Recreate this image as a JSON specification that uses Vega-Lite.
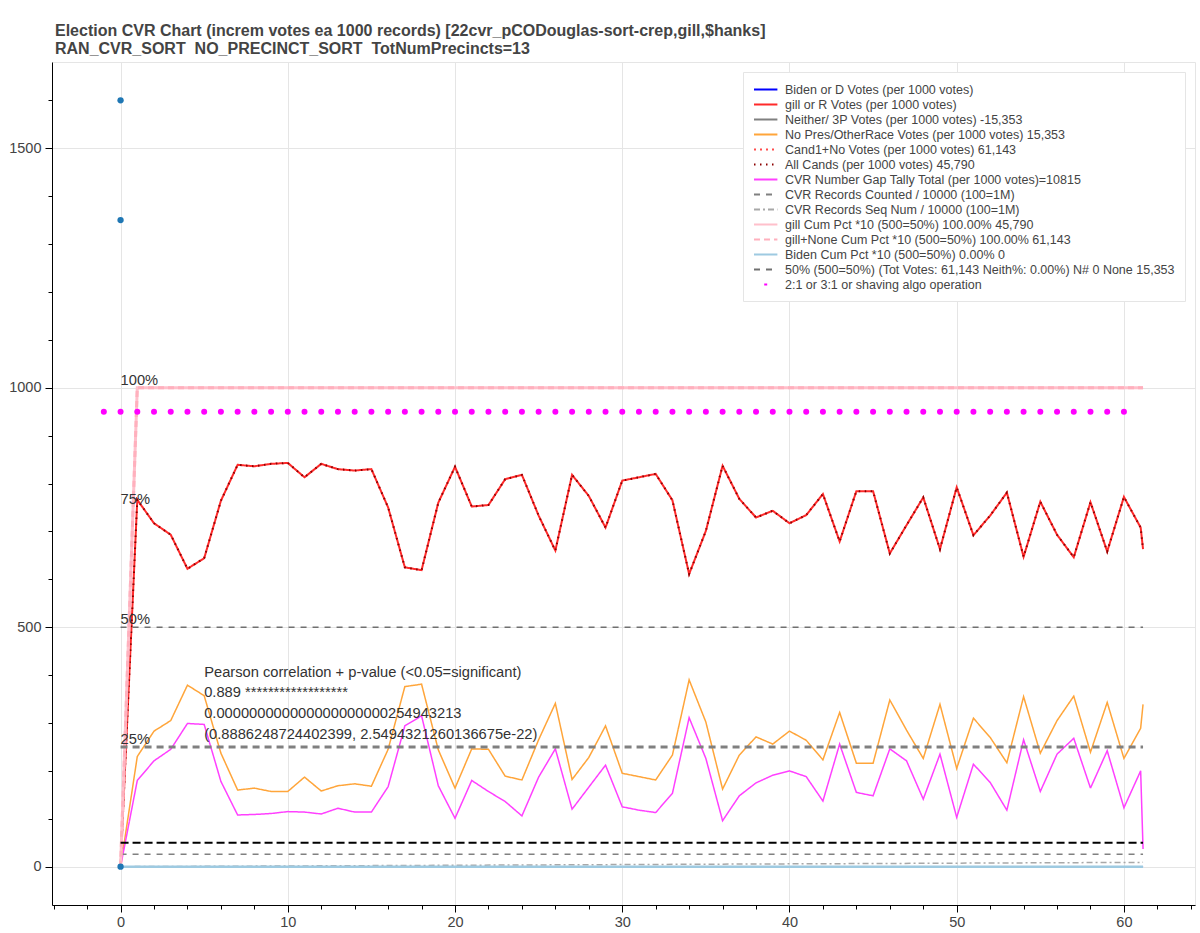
{
  "$schema": "https://vega.github.io/schema/vega-lite/v6.json",
  "width": 1143,
  "height": 843,
  "autosize": {"type": "none"},
  "padding": {"left": 52, "top": 62, "right": 5, "bottom": 28},
  "background": "white",
  "title": {
    "text": [
      "Election CVR Chart (increm votes ea 1000 records) [22cvr_pCODouglas-sort-crep,gill,$hanks]",
      "\u2002RAN_CVR_SORT\u00a0\u00a0NO_PRECINCT_SORT\u00a0\u00a0TotNumPrecincts=13"
    ],
    "anchor": "start",
    "frame": "group",
    "font": "Liberation Sans",
    "fontSize": 16,
    "fontWeight": "bold",
    "color": "#444",
    "lineHeight": 18,
    "offset": 5,
    "dx": 3
  },
  "datasets": {
    "batch": [
      {"x": 0, "gill": 0, "nopres": 0, "gap": 0},
      {"x": 1, "gill": 766, "nopres": 230, "gap": 180},
      {"x": 2, "gill": 717, "nopres": 283, "gap": 221},
      {"x": 3, "gill": 693, "nopres": 305, "gap": 245},
      {"x": 4, "gill": 622, "nopres": 379, "gap": 299},
      {"x": 5, "gill": 644, "nopres": 357, "gap": 297},
      {"x": 6, "gill": 764, "nopres": 237, "gap": 178},
      {"x": 7, "gill": 839, "nopres": 160, "gap": 108},
      {"x": 8, "gill": 836, "nopres": 164, "gap": 109},
      {"x": 9, "gill": 841, "nopres": 157, "gap": 111},
      {"x": 10, "gill": 843, "nopres": 157, "gap": 115},
      {"x": 11, "gill": 813, "nopres": 187, "gap": 114},
      {"x": 12, "gill": 841, "nopres": 158, "gap": 110},
      {"x": 13, "gill": 830, "nopres": 169, "gap": 122},
      {"x": 14, "gill": 827, "nopres": 173, "gap": 114},
      {"x": 15, "gill": 830, "nopres": 168, "gap": 114},
      {"x": 16, "gill": 750, "nopres": 245, "gap": 167},
      {"x": 17, "gill": 625, "nopres": 376, "gap": 294},
      {"x": 18, "gill": 619, "nopres": 381, "gap": 315},
      {"x": 19, "gill": 760, "nopres": 244, "gap": 169},
      {"x": 20, "gill": 835, "nopres": 164, "gap": 101},
      {"x": 21, "gill": 752, "nopres": 246, "gap": 180},
      {"x": 22, "gill": 755, "nopres": 245, "gap": 157},
      {"x": 23, "gill": 809, "nopres": 189, "gap": 136},
      {"x": 24, "gill": 818, "nopres": 181, "gap": 106},
      {"x": 25, "gill": 733, "nopres": 265, "gap": 187},
      {"x": 26, "gill": 660, "nopres": 341, "gap": 246},
      {"x": 27, "gill": 818, "nopres": 182, "gap": 120},
      {"x": 28, "gill": 774, "nopres": 228, "gap": 166},
      {"x": 29, "gill": 708, "nopres": 294, "gap": 212},
      {"x": 30, "gill": 806, "nopres": 195, "gap": 125},
      {"x": 31, "gill": 813, "nopres": 188, "gap": 118},
      {"x": 32, "gill": 820, "nopres": 181, "gap": 113},
      {"x": 33, "gill": 765, "nopres": 233, "gap": 153},
      {"x": 34, "gill": 611, "nopres": 390, "gap": 311},
      {"x": 35, "gill": 701, "nopres": 302, "gap": 226},
      {"x": 36, "gill": 837, "nopres": 162, "gap": 96},
      {"x": 37, "gill": 768, "nopres": 233, "gap": 148},
      {"x": 38, "gill": 729, "nopres": 271, "gap": 175},
      {"x": 39, "gill": 743, "nopres": 256, "gap": 191},
      {"x": 40, "gill": 717, "nopres": 283, "gap": 200},
      {"x": 41, "gill": 734, "nopres": 264, "gap": 188},
      {"x": 42, "gill": 778, "nopres": 223, "gap": 137},
      {"x": 43, "gill": 679, "nopres": 322, "gap": 256},
      {"x": 44, "gill": 784, "nopres": 216, "gap": 155},
      {"x": 45, "gill": 784, "nopres": 216, "gap": 148},
      {"x": 46, "gill": 654, "nopres": 348, "gap": 246},
      {"x": 47, "gill": 713, "nopres": 285, "gap": 221},
      {"x": 48, "gill": 771, "nopres": 226, "gap": 141},
      {"x": 49, "gill": 663, "nopres": 339, "gap": 235},
      {"x": 50, "gill": 792, "nopres": 205, "gap": 103},
      {"x": 51, "gill": 692, "nopres": 310, "gap": 214},
      {"x": 52, "gill": 733, "nopres": 270, "gap": 176},
      {"x": 53, "gill": 781, "nopres": 217, "gap": 118},
      {"x": 54, "gill": 647, "nopres": 355, "gap": 265},
      {"x": 55, "gill": 762, "nopres": 237, "gap": 157},
      {"x": 56, "gill": 693, "nopres": 305, "gap": 235},
      {"x": 57, "gill": 646, "nopres": 356, "gap": 268},
      {"x": 58, "gill": 761, "nopres": 239, "gap": 164},
      {"x": 59, "gill": 658, "nopres": 343, "gap": 242},
      {"x": 60, "gill": 772, "nopres": 226, "gap": 123},
      {"x": 61, "gill": 708, "nopres": 289, "gap": 200},
      {"x": 61.143, "gill": 663, "nopres": 339, "gap": 37}
    ],
    "flat": [
      {"k": "bid", "x": 0, "y": 0},
      {"k": "bid", "x": 61.143, "y": 0},
      {"k": "neith", "x": 0, "y": 0},
      {"k": "neith", "x": 61.143, "y": 0},
      {"k": "cnt", "x": 0, "y": 26},
      {"k": "cnt", "x": 61.143, "y": 26},
      {"k": "seq", "x": 0, "y": 0},
      {"k": "seq", "x": 61.143, "y": 9},
      {"k": "p50", "x": 0, "y": 500},
      {"k": "p50", "x": 61.143, "y": 500},
      {"k": "gcum", "x": 0, "y": 0},
      {"k": "gcum", "x": 1, "y": 1000},
      {"k": "gcum", "x": 61.143, "y": 1000},
      {"k": "gncum", "x": 0, "y": 0},
      {"k": "gncum", "x": 1, "y": 1000},
      {"k": "gncum", "x": 61.143, "y": 1000},
      {"k": "bcum", "x": 0, "y": 0},
      {"k": "bcum", "x": 61.143, "y": 0}
    ],
    "guides": [
      {"g": "p25", "x": 0, "y": 250},
      {"g": "p25", "x": 61.143, "y": 250},
      {"g": "b50", "x": 0, "y": 50},
      {"g": "b50", "x": 61.143, "y": 50}
    ],
    "algo": [
      {"x": -1, "y": 950}, {"x": 0, "y": 950}, {"x": 1, "y": 950}, {"x": 2, "y": 950},
      {"x": 3, "y": 950}, {"x": 4, "y": 950}, {"x": 5, "y": 950}, {"x": 6, "y": 950},
      {"x": 7, "y": 950}, {"x": 8, "y": 950}, {"x": 9, "y": 950}, {"x": 10, "y": 950},
      {"x": 11, "y": 950}, {"x": 12, "y": 950}, {"x": 13, "y": 950}, {"x": 14, "y": 950},
      {"x": 15, "y": 950}, {"x": 16, "y": 950}, {"x": 17, "y": 950}, {"x": 18, "y": 950},
      {"x": 19, "y": 950}, {"x": 20, "y": 950}, {"x": 21, "y": 950}, {"x": 22, "y": 950},
      {"x": 23, "y": 950}, {"x": 24, "y": 950}, {"x": 25, "y": 950}, {"x": 26, "y": 950},
      {"x": 27, "y": 950}, {"x": 28, "y": 950}, {"x": 29, "y": 950}, {"x": 30, "y": 950},
      {"x": 31, "y": 950}, {"x": 32, "y": 950}, {"x": 33, "y": 950}, {"x": 34, "y": 950},
      {"x": 35, "y": 950}, {"x": 36, "y": 950}, {"x": 37, "y": 950}, {"x": 38, "y": 950},
      {"x": 39, "y": 950}, {"x": 40, "y": 950}, {"x": 41, "y": 950}, {"x": 42, "y": 950},
      {"x": 43, "y": 950}, {"x": 44, "y": 950}, {"x": 45, "y": 950}, {"x": 46, "y": 950},
      {"x": 47, "y": 950}, {"x": 48, "y": 950}, {"x": 49, "y": 950}, {"x": 50, "y": 950},
      {"x": 51, "y": 950}, {"x": 52, "y": 950}, {"x": 53, "y": 950}, {"x": 54, "y": 950},
      {"x": 55, "y": 950}, {"x": 56, "y": 950}, {"x": 57, "y": 950}, {"x": 58, "y": 950},
      {"x": 59, "y": 950}, {"x": 60, "y": 950}
    ],
    "blue": [
      {"x": 0, "y": 1600},
      {"x": 0, "y": 1350},
      {"x": 0, "y": 0}
    ],
    "notes": [
      {"t": "100%", "x": 0, "y": 1000},
      {"t": "75%", "x": 0, "y": 750},
      {"t": "50%", "x": 0, "y": 500},
      {"t": "25%", "x": 0, "y": 250},
      {"t": "Pearson correlation + p-value (<0.05=significant)", "x": 5, "y": 390},
      {"t": "0.889 ******************", "x": 5, "y": 348},
      {"t": "0.000000000000000000000254943213", "x": 5, "y": 304},
      {"t": "(0.8886248724402399, 2.5494321260136675e-22)", "x": 5, "y": 260}
    ]
  },
  "encoding": {
    "x": {
      "field": "x",
      "type": "quantitative",
      "scale": {"domain": [-4.1, 64.25], "nice": false, "zero": false},
      "axis": {
        "title": null,
        "values": [-4, -2, 0, 2, 4, 6, 8, 10, 12, 14, 16, 18, 20, 22, 24, 26, 28, 30, 32, 34, 36, 38, 40, 42, 44, 46, 48, 50, 52, 54, 56, 58, 60, 62, 64],
        "format": "d",
        "labelExpr": "datum.value % 10 === 0 ? datum.label : ''",
        "labelOverlap": false,
        "labelFlush": false,
        "grid": true,
        "gridColor": "#e5e5e5",
        "gridOpacity": {"condition": {"test": "datum.value % 10 === 0", "value": 1}, "value": 0},
        "tickSize": {"condition": {"test": "datum.value % 10 === 0", "value": 7}, "value": 4},
        "tickColor": "#000",
        "domainColor": "#000",
        "labelColor": "#444",
        "labelFont": "Liberation Sans",
        "labelFontSize": 14.5,
        "labelPadding": 3
      }
    },
    "y": {
      "field": "y",
      "type": "quantitative",
      "scale": {"domain": [-80, 1680], "nice": false, "zero": false},
      "axis": {
        "title": null,
        "values": [0, 100, 200, 300, 400, 500, 600, 700, 800, 900, 1000, 1100, 1200, 1300, 1400, 1500, 1600],
        "format": "d",
        "labelExpr": "datum.value % 500 === 0 ? datum.label : ''",
        "labelOverlap": false,
        "grid": true,
        "gridColor": "#e5e5e5",
        "gridOpacity": {"condition": {"test": "datum.value % 500 === 0", "value": 1}, "value": 0},
        "tickSize": {"condition": {"test": "datum.value % 500 === 0", "value": 7}, "value": 4},
        "tickColor": "#000",
        "domainColor": "#000",
        "labelColor": "#444",
        "labelFont": "Liberation Sans",
        "labelFontSize": 14.5,
        "labelPadding": 4
      }
    }
  },
  "layer": [
    {
      "data": {"name": "flat"},
      "transform": [{"filter": {"field": "k", "oneOf": ["bid", "neith"]}}],
      "mark": {"type": "line", "strokeWidth": 1.5},
      "encoding": {
        "color": {
          "field": "k", "type": "nominal",
          "scale": {"domain": ["bid", "gill", "neith", "nopres", "cand1", "allc", "gap", "cnt", "seq", "gcum", "gncum", "bcum", "p50", "algo"],
                    "range": ["#0000ff", "#ff2a2a", "#808080", "#ffa53a", "#ff4d4d", "#8b0000", "#ff40ff", "#808080", "#a8a8a8", "#ffc0cb", "#ffb0bd", "#9ecae1", "#707070", "#ff00ff"]},
          "legend": {
            "title": null,
            "orient": "top-right",
            "offset": 10,
            "padding": 10,
            "fillColor": "white",
            "strokeColor": "#e5e5e5",
            "symbolType": "M-1,0H2.6",
            "symbolSize": 169,
            "symbolStrokeWidth": 2,
            "labelFont": "Liberation Sans",
            "labelFontSize": 12.5,
            "labelColor": "#444",
            "labelLimit": 600,
            "labelOffset": 17,
            "rowPadding": 1,
            "labelExpr": "{'bid':'Biden or D Votes (per 1000 votes)','gill':'gill or R Votes (per 1000 votes)','neith':'Neither/ 3P Votes (per 1000 votes) -15,353','nopres':'No Pres/OtherRace Votes (per 1000 votes) 15,353','cand1':'Cand1+No Votes (per 1000 votes) 61,143','allc':'All Cands (per 1000 votes) 45,790','gap':'CVR Number Gap Tally Total (per 1000 votes)=10815','cnt':'CVR Records Counted / 10000 (100=1M)','seq':'CVR Records Seq Num / 10000 (100=1M)','gcum':'gill Cum Pct *10 (500=50%) 100.00% 45,790','gncum':'gill+None Cum Pct *10 (500=50%) 100.00% 61,143','bcum':'Biden Cum Pct *10 (500=50%) 0.00% 0','p50':'50% (500=50%) (Tot Votes: 61,143 Neith%: 0.00%) N# 0 None 15,353','algo':'2:1 or 3:1 or shaving algo operation'}[datum.value]"
          }
        },
        "strokeDash": {
          "field": "k", "type": "nominal",
          "scale": {"domain": ["bid", "gill", "neith", "nopres", "cand1", "allc", "gap", "cnt", "seq", "gcum", "gncum", "bcum", "p50", "algo"],
                    "range": [[1, 0], [1, 0], [1, 0], [1, 0], [2, 4], [1.5, 4.5], [1, 0], [6, 6], [6, 3, 2, 3], [1, 0], [6, 4], [1, 0], [6, 6], [0, 10.2, 3, 100]]},
          "legend": {
            "title": null,
            "orient": "top-right",
            "symbolType": "M-1,0H2.6",
            "labelExpr": "{'bid':'Biden or D Votes (per 1000 votes)','gill':'gill or R Votes (per 1000 votes)','neith':'Neither/ 3P Votes (per 1000 votes) -15,353','nopres':'No Pres/OtherRace Votes (per 1000 votes) 15,353','cand1':'Cand1+No Votes (per 1000 votes) 61,143','allc':'All Cands (per 1000 votes) 45,790','gap':'CVR Number Gap Tally Total (per 1000 votes)=10815','cnt':'CVR Records Counted / 10000 (100=1M)','seq':'CVR Records Seq Num / 10000 (100=1M)','gcum':'gill Cum Pct *10 (500=50%) 100.00% 45,790','gncum':'gill+None Cum Pct *10 (500=50%) 100.00% 61,143','bcum':'Biden Cum Pct *10 (500=50%) 0.00% 0','p50':'50% (500=50%) (Tot Votes: 61,143 Neith%: 0.00%) N# 0 None 15,353','algo':'2:1 or 3:1 or shaving algo operation'}[datum.value]"
          }
        }
      }
    },
    {
      "data": {"name": "batch"},
      "transform": [
        {"fold": ["gill", "nopres", "gap"], "as": ["k", "y"]},
        {"filter": "datum.k === 'gill'"}
      ],
      "mark": {"type": "line", "strokeWidth": 2},
      "encoding": {
        "color": {"field": "k", "type": "nominal",
          "scale": {"domain": ["bid", "gill", "neith", "nopres", "cand1", "allc", "gap", "cnt", "seq", "gcum", "gncum", "bcum", "p50", "algo"],
                    "range": ["#0000ff", "#ff2a2a", "#808080", "#ffa53a", "#ff4d4d", "#8b0000", "#ff40ff", "#808080", "#a8a8a8", "#ffc0cb", "#ffb0bd", "#9ecae1", "#707070", "#ff00ff"]}},
        "strokeDash": {"field": "k", "type": "nominal",
          "scale": {"domain": ["bid", "gill", "neith", "nopres", "cand1", "allc", "gap", "cnt", "seq", "gcum", "gncum", "bcum", "p50", "algo"],
                    "range": [[1, 0], [1, 0], [1, 0], [1, 0], [2, 4], [1.5, 4.5], [1, 0], [6, 6], [6, 3, 2, 3], [1, 0], [6, 4], [1, 0], [6, 6], [0, 10.2, 3, 100]]}}
      }
    },
    {
      "data": {"name": "batch"},
      "transform": [
        {"fold": ["gill", "nopres", "gap"], "as": ["k", "y"]},
        {"filter": "datum.k !== 'gill'"}
      ],
      "mark": {"type": "line", "strokeWidth": 1.5},
      "encoding": {
        "color": {"field": "k", "type": "nominal",
          "scale": {"domain": ["bid", "gill", "neith", "nopres", "cand1", "allc", "gap", "cnt", "seq", "gcum", "gncum", "bcum", "p50", "algo"],
                    "range": ["#0000ff", "#ff2a2a", "#808080", "#ffa53a", "#ff4d4d", "#8b0000", "#ff40ff", "#808080", "#a8a8a8", "#ffc0cb", "#ffb0bd", "#9ecae1", "#707070", "#ff00ff"]}},
        "strokeDash": {"field": "k", "type": "nominal",
          "scale": {"domain": ["bid", "gill", "neith", "nopres", "cand1", "allc", "gap", "cnt", "seq", "gcum", "gncum", "bcum", "p50", "algo"],
                    "range": [[1, 0], [1, 0], [1, 0], [1, 0], [2, 4], [1.5, 4.5], [1, 0], [6, 6], [6, 3, 2, 3], [1, 0], [6, 4], [1, 0], [6, 6], [0, 10.2, 3, 100]]}}
      }
    },
    {
      "data": {"name": "batch"},
      "transform": [
        {"fold": ["gill"], "as": ["k", "y"]}
      ],
      "mark": {"type": "line", "strokeWidth": 2},
      "encoding": {
        "color": {"datum": "allc", "type": "nominal",
          "scale": {"domain": ["bid", "gill", "neith", "nopres", "cand1", "allc", "gap", "cnt", "seq", "gcum", "gncum", "bcum", "p50", "algo"],
                    "range": ["#0000ff", "#ff2a2a", "#808080", "#ffa53a", "#ff4d4d", "#8b0000", "#ff40ff", "#808080", "#a8a8a8", "#ffc0cb", "#ffb0bd", "#9ecae1", "#707070", "#ff00ff"]}},
        "strokeDash": {"datum": "allc", "type": "nominal",
          "scale": {"domain": ["bid", "gill", "neith", "nopres", "cand1", "allc", "gap", "cnt", "seq", "gcum", "gncum", "bcum", "p50", "algo"],
                    "range": [[1, 0], [1, 0], [1, 0], [1, 0], [2, 4], [1.5, 4.5], [1, 0], [6, 6], [6, 3, 2, 3], [1, 0], [6, 4], [1, 0], [6, 6], [0, 10.2, 3, 100]]}}
      }
    },
    {
      "data": {"name": "flat"},
      "transform": [{"filter": {"field": "k", "oneOf": ["cnt", "seq", "p50"]}}],
      "mark": {"type": "line", "strokeWidth": 1.5},
      "encoding": {
        "color": {"field": "k", "type": "nominal",
          "scale": {"domain": ["bid", "gill", "neith", "nopres", "cand1", "allc", "gap", "cnt", "seq", "gcum", "gncum", "bcum", "p50", "algo"],
                    "range": ["#0000ff", "#ff2a2a", "#808080", "#ffa53a", "#ff4d4d", "#8b0000", "#ff40ff", "#808080", "#a8a8a8", "#ffc0cb", "#ffb0bd", "#9ecae1", "#707070", "#ff00ff"]}},
        "strokeDash": {"field": "k", "type": "nominal",
          "scale": {"domain": ["bid", "gill", "neith", "nopres", "cand1", "allc", "gap", "cnt", "seq", "gcum", "gncum", "bcum", "p50", "algo"],
                    "range": [[1, 0], [1, 0], [1, 0], [1, 0], [2, 4], [1.5, 4.5], [1, 0], [6, 6], [6, 3, 2, 3], [1, 0], [6, 4], [1, 0], [6, 6], [0, 10.2, 3, 100]]}}
      }
    },
    {
      "data": {"name": "flat"},
      "transform": [{"filter": {"field": "k", "oneOf": ["gcum"]}}],
      "mark": {"type": "line", "strokeWidth": 3},
      "encoding": {
        "color": {"field": "k", "type": "nominal",
          "scale": {"domain": ["bid", "gill", "neith", "nopres", "cand1", "allc", "gap", "cnt", "seq", "gcum", "gncum", "bcum", "p50", "algo"],
                    "range": ["#0000ff", "#ff2a2a", "#808080", "#ffa53a", "#ff4d4d", "#8b0000", "#ff40ff", "#808080", "#a8a8a8", "#ffc0cb", "#ffb0bd", "#9ecae1", "#707070", "#ff00ff"]}},
        "strokeDash": {"field": "k", "type": "nominal",
          "scale": {"domain": ["bid", "gill", "neith", "nopres", "cand1", "allc", "gap", "cnt", "seq", "gcum", "gncum", "bcum", "p50", "algo"],
                    "range": [[1, 0], [1, 0], [1, 0], [1, 0], [2, 4], [1.5, 4.5], [1, 0], [6, 6], [6, 3, 2, 3], [1, 0], [6, 4], [1, 0], [6, 6], [0, 10.2, 3, 100]]}}
      }
    },
    {
      "data": {"name": "flat"},
      "transform": [{"filter": {"field": "k", "oneOf": ["gncum"]}}],
      "mark": {"type": "line", "strokeWidth": 3},
      "encoding": {
        "color": {"field": "k", "type": "nominal",
          "scale": {"domain": ["bid", "gill", "neith", "nopres", "cand1", "allc", "gap", "cnt", "seq", "gcum", "gncum", "bcum", "p50", "algo"],
                    "range": ["#0000ff", "#ff2a2a", "#808080", "#ffa53a", "#ff4d4d", "#8b0000", "#ff40ff", "#808080", "#a8a8a8", "#ffc0cb", "#ffb0bd", "#9ecae1", "#707070", "#ff00ff"]}},
        "strokeDash": {"field": "k", "type": "nominal",
          "scale": {"domain": ["bid", "gill", "neith", "nopres", "cand1", "allc", "gap", "cnt", "seq", "gcum", "gncum", "bcum", "p50", "algo"],
                    "range": [[1, 0], [1, 0], [1, 0], [1, 0], [2, 4], [1.5, 4.5], [1, 0], [6, 6], [6, 3, 2, 3], [1, 0], [6, 4], [1, 0], [6, 6], [0, 10.2, 3, 100]]}}
      }
    },
    {
      "data": {"name": "flat"},
      "transform": [{"filter": {"field": "k", "oneOf": ["bcum"]}}],
      "mark": {"type": "line", "strokeWidth": 2.5},
      "encoding": {
        "color": {"field": "k", "type": "nominal",
          "scale": {"domain": ["bid", "gill", "neith", "nopres", "cand1", "allc", "gap", "cnt", "seq", "gcum", "gncum", "bcum", "p50", "algo"],
                    "range": ["#0000ff", "#ff2a2a", "#808080", "#ffa53a", "#ff4d4d", "#8b0000", "#ff40ff", "#808080", "#a8a8a8", "#ffc0cb", "#ffb0bd", "#9ecae1", "#707070", "#ff00ff"]}},
        "strokeDash": {"field": "k", "type": "nominal",
          "scale": {"domain": ["bid", "gill", "neith", "nopres", "cand1", "allc", "gap", "cnt", "seq", "gcum", "gncum", "bcum", "p50", "algo"],
                    "range": [[1, 0], [1, 0], [1, 0], [1, 0], [2, 4], [1.5, 4.5], [1, 0], [6, 6], [6, 3, 2, 3], [1, 0], [6, 4], [1, 0], [6, 6], [0, 10.2, 3, 100]]}}
      }
    },
    {
      "data": {"name": "guides"},
      "transform": [{"filter": "datum.g === 'p25'"}],
      "mark": {"type": "line", "color": "#808080", "strokeWidth": 3, "strokeDash": [7, 5]},
      "encoding": {}
    },
    {
      "data": {"name": "guides"},
      "transform": [{"filter": "datum.g === 'b50'"}],
      "mark": {"type": "line", "color": "#000000", "strokeWidth": 2, "strokeDash": [8, 4]},
      "encoding": {}
    },
    {
      "data": {"name": "algo"},
      "mark": {"type": "point", "filled": true, "size": 36, "color": "#ff00ff", "opacity": 1}
    },
    {
      "data": {"name": "blue"},
      "mark": {"type": "point", "filled": true, "size": 40, "color": "#1f77b4", "opacity": 1}
    },
    {
      "data": {"name": "notes"},
      "mark": {"type": "text", "align": "left", "baseline": "bottom", "font": "Liberation Sans", "fontSize": 14.7, "color": "#333"},
      "encoding": {"text": {"field": "t", "type": "nominal"}}
    }
  ],
  "config": {
    "font": "Liberation Sans",
    "view": {"stroke": "#e5e5e5"}
  }
}
